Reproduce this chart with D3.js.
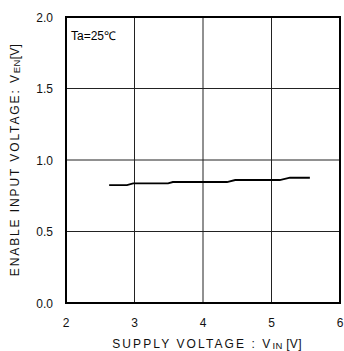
<!DOCTYPE html>
<html>
<head>
<meta charset="utf-8">
<script src="https://cdn.jsdelivr.net/npm/d3@7"></script>
<style>
  html, body { margin: 0; padding: 0; background: #fff; }
  svg { display: block; font-family: "Liberation Sans", Arial, sans-serif; }
</style>
</head>
<body>
<svg id="chart" width="344" height="351"></svg>
<script>
// Supply voltage (V) and enable input threshold (V)
const supplyVoltage = [2.63, 2.89, 2.98, 3.49, 3.56, 4.35, 4.47, 5.12, 5.27, 5.56];
const enableVoltage = [0.825, 0.825, 0.837, 0.837, 0.846, 0.846, 0.860, 0.860, 0.876, 0.876];
const xTicks = [2, 3, 4, 5, 6];
const yTicks = [0.0, 0.5, 1.0, 1.5, 2.0];

const svg = d3.select("#chart");
const margin = { left: 66, right: 4, top: 17, bottom: 48 };
const W = 344, H = 351;

const x = d3.scaleLinear().domain([2, 6]).range([margin.left, W - margin.right]);
const y = d3.scaleLinear().domain([0, 2]).range([H - margin.bottom, margin.top]);

// grid
svg.append("g").selectAll("line.v").data(xTicks.slice(1, -1)).join("line")
  .attr("x1", d => x(d)).attr("x2", d => x(d))
  .attr("y1", y(0)).attr("y2", y(2))
  .attr("stroke", "#222").attr("stroke-width", 1);
svg.append("g").selectAll("line.h").data(yTicks.slice(1, -1)).join("line")
  .attr("x1", x(2)).attr("x2", x(6))
  .attr("y1", d => y(d)).attr("y2", d => y(d))
  .attr("stroke", "#222").attr("stroke-width", 1);

// frame
svg.append("rect")
  .attr("x", x(2)).attr("y", y(2))
  .attr("width", x(6) - x(2)).attr("height", y(0) - y(2))
  .attr("fill", "none").attr("stroke", "#000").attr("stroke-width", 2);

// tick labels
svg.append("g").selectAll("text").data(yTicks).join("text")
  .attr("x", x(2) - 13).attr("y", d => y(d) + 4.5)
  .attr("text-anchor", "end").attr("font-size", 12).attr("fill", "#111")
  .text(d => d.toFixed(1));
svg.append("g").selectAll("text").data(xTicks).join("text")
  .attr("x", d => x(d)).attr("y", y(0) + 24)
  .attr("text-anchor", "middle").attr("font-size", 12).attr("fill", "#111")
  .text(d => d);

// data line
const line = d3.line().x((d, i) => x(supplyVoltage[i])).y(d => y(d));
svg.append("path").datum(enableVoltage)
  .attr("d", line).attr("fill", "none")
  .attr("stroke", "#000").attr("stroke-width", 1.8);

// annotation
svg.append("text").attr("x", x(2) + 5).attr("y", y(2) + 23)
  .attr("font-size", 12).attr("fill", "#000").text("Ta=25℃");

// axis titles
const xt = svg.append("text").attr("x", 207).attr("y", 347.5)
  .attr("text-anchor", "middle").attr("font-size", 12).attr("letter-spacing", 2.1).attr("fill", "#111");
xt.append("tspan").text("SUPPLY VOLTAGE : V");
xt.append("tspan").attr("font-size", 9.5).attr("dy", 1).attr("letter-spacing", 0.3).text("IN");
xt.append("tspan").attr("dy", -1).attr("letter-spacing", 0.3).text(" [V]");

const yt = svg.append("text")
  .attr("transform", `translate(19, 160) rotate(-90)`)
  .attr("text-anchor", "middle").attr("font-size", 12).attr("letter-spacing", 1.9).attr("fill", "#111");
yt.append("tspan").text("ENABLE INPUT VOLTAGE: V");
yt.append("tspan").attr("font-size", 9.5).attr("dy", 1).attr("letter-spacing", 0.3).text("EN");
yt.append("tspan").attr("dy", -1).attr("letter-spacing", 0.3).text("[V]");
</script>
</body>
</html>
